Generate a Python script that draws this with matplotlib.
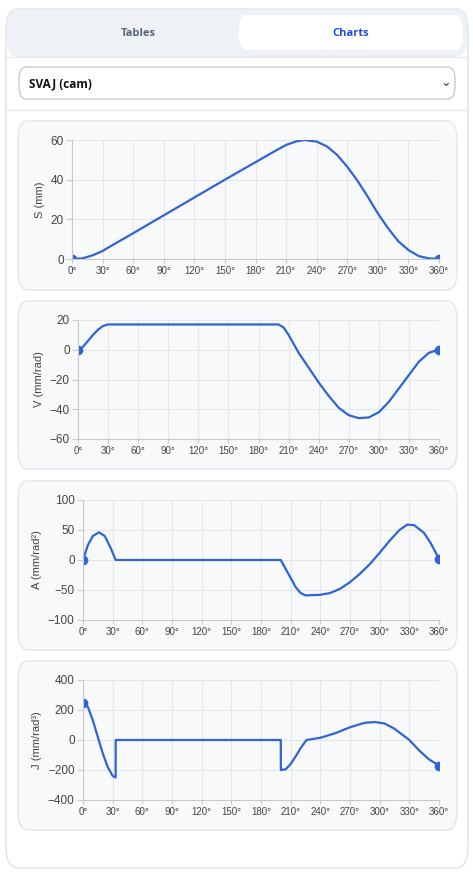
import matplotlib
matplotlib.use("Agg")
import matplotlib.pyplot as plt
from matplotlib.patches import FancyBboxPatch
import numpy as np

W, H = 473, 881
plt.rcParams['font.family'] = ['Liberation Sans', 'DejaVu Sans']

deg_s = [0,10,20,30,33,60,90,120,150,180,200,210,220,228,240,250,260,270,280,290,300,310,320,330,340,350,360]
S = [0,0.3,1.8,4,5,13,22,31,40,48.8,54.7,57.5,59.3,60,59.2,56.8,52.5,46.5,39.5,31.5,23,15.5,9,4.5,1.5,0.3,0]

deg_v = [0,5,10,15,20,25,30,33,200,205,210,220,230,240,250,260,270,280,290,300,310,320,330,340,350,360]
V = [0,2,6,10,13.5,16,17,17,17,15,10,-2,-12,-22,-31,-39,-44,-46,-45.5,-42,-35,-26,-17,-8,-2,0]

deg_a = [0,5,10,16,22,28,33,200,205,210,215,220,225,240,250,260,270,280,290,300,310,320,328,335,345,352,360]
A = [0,25,40,46,40,20,0,0,-15,-30,-45,-55,-59,-58,-55,-48,-37,-23,-7,12,32,50,59,58,45,27,2]

deg_j = [0,5,10,15,20,25,30,33,33.1,200,200.1,205,210,215,220,226,240,255,270,285,295,305,315,330,340,350,360]
J = [250,220,130,20,-90,-180,-240,-250,0,0,-200,-195,-160,-110,-55,0,15,45,85,115,120,110,75,0,-70,-130,-170]

charts = [
    ("S (mm)", deg_s, S, [0,20,40,60], (121,290), (140,259), 72),
    ("V (mm/rad)", deg_v, V, [-60,-40,-20,0,20], (301,469), (320,439), 78),
    ("A (mm/rad²)", deg_a, A, [-100,-50,0,50,100], (481,650), (500,620), 83),
    ("J (mm/rad³)", deg_j, J, [-400,-200,0,200,400], (661,830), (680,800), 83),
]

fig = plt.figure(figsize=(W/100, H/100), dpi=100)
fig.patch.set_facecolor('white')

def box(x0, y0, x1, y1, fc, ec, r=8, lw=1):
    p = FancyBboxPatch((x0/W, 1-y1/H), (x1-x0)/W, (y1-y0)/H,
                       boxstyle=f"round,pad=0,rounding_size={r/W}",
                       transform=fig.transFigure, fc=fc, ec=ec, lw=lw, zorder=-5)
    fig.patches.append(p)

box(6, 9, 468, 868, 'white', '#dfe3e8', r=12)
box(7, 10, 467, 57, '#eef2f7', 'none', r=10)
box(239, 15, 463, 50, 'white', 'none', r=8)
fig.text(138/W, 1-34/H, "Tables", ha='center', va='center', fontsize=8, weight='bold', color='#5b6577', family=['Open Sans', 'DejaVu Sans'])
fig.text(351/W, 1-34/H, "Charts", ha='center', va='center', fontsize=8, weight='bold', color='#1d4ed8', family=['Open Sans', 'DejaVu Sans'])
fig.add_artist(plt.Line2D([6/W, 468/W], [1-57/H]*2, color='#e3e6ea', lw=0.8, zorder=-4))
box(19, 67, 455, 99, 'white', '#c7ccd3', r=7)
fig.text(29/W, 1-84/H, "SVAJ (cam)", ha='left', va='center', fontsize=8.5, weight='bold', color='#111', family=['Open Sans', 'DejaVu Sans'])
fig.text(446/W, 1-83/H, "⌄", ha='center', va='center', fontsize=9, color='#333', family=['DejaVu Sans'])
fig.add_artist(plt.Line2D([6/W, 468/W], [1-110/H]*2, color='#e3e6ea', lw=0.8, zorder=-4))

for label, xs, ys, yt, (cy0, cy1), (py0, py1), px0 in charts:
    box(18, cy0, 457, cy1, '#f8f9fb', '#e2e5ea', r=10)
    ax = fig.add_axes([px0/W, 1-py1/H, (439-px0)/W, (py1-py0)/H])
    ax.set_facecolor('#f8f9fb')
    ax.plot(xs, ys, color='#2f63d6', lw=1.6)
    ax.plot([xs[0], xs[-1]], [ys[0], ys[-1]], 'o', color='#2f63d6', ms=6)
    ax.set_xlim(0, 360)
    ax.set_ylim(yt[0], yt[-1])
    ax.set_xticks(range(0, 361, 30))
    ax.set_xticklabels([f"{d}°" for d in range(0, 361, 30)])
    ax.set_yticks(yt)
    ax.grid(color='#e3e5e8', lw=0.7)
    ax.set_axisbelow(True)
    for s in ['top', 'right']:
        ax.spines[s].set_visible(False)
    for s in ['left', 'bottom']:
        ax.spines[s].set_color('#c8c8c8')
    ax.tick_params(axis='x', labelsize=7, colors='#444', length=3, color='#ccc', pad=2)
    ax.tick_params(axis='y', labelsize=8.5, colors='#444', length=4, color='#ccc', pad=2)
    ax.set_ylabel(label, fontsize=8, color='#444', labelpad=4)

fig.savefig("out.png", dpi=100, facecolor='white')
